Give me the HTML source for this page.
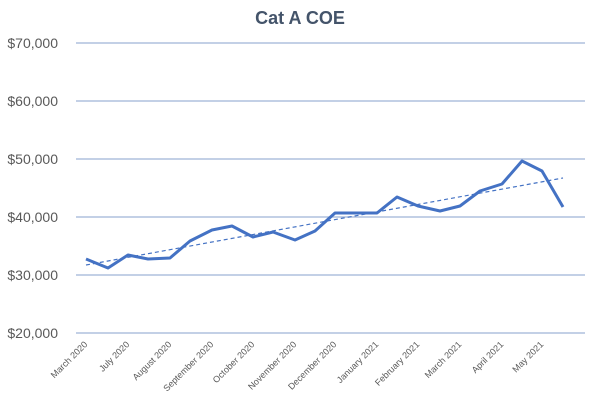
<!DOCTYPE html>
<html><head><style>body{margin:0;background:#fff}svg{display:block}</style></head><body>
<svg width="600" height="400" xmlns="http://www.w3.org/2000/svg" font-family="Liberation Sans, sans-serif">
<text x="300" y="24" text-anchor="middle" font-size="18" font-weight="bold" fill="#44546a">Cat A COE</text>
<g stroke="#9fb3d6" stroke-width="1.3">
<line x1="76" x2="585" y1="43" y2="43"/><line x1="76" x2="585" y1="101" y2="101"/>
<line x1="76" x2="585" y1="159" y2="159"/><line x1="76" x2="585" y1="217" y2="217"/>
<line x1="76" x2="585" y1="275" y2="275"/><line x1="76" x2="585" y1="333" y2="333"/>
</g>
<g font-size="14" fill="#595959" text-anchor="end">
<text x="58" y="48">$70,000</text><text x="58" y="106">$60,000</text><text x="58" y="164">$50,000</text>
<text x="58" y="222">$40,000</text><text x="58" y="280">$30,000</text><text x="58" y="338">$20,000</text>
</g>
<line x1="86" y1="265" x2="563" y2="178" stroke="#4472c4" stroke-width="1.2" stroke-dasharray="4,3"/>
<polyline fill="none" stroke="#4472c4" stroke-width="3" stroke-linejoin="round" points="86,259 108,268 128,255 148,259 170,258 190,241 212,230 232,226 253,237 273,232 295,240 315,231 335,213 357,213 377,213 397,197 418,206 440,211 460,206 480,191 502,184 522,161 542,171 563,207"/>
<g font-size="9" fill="#595959" text-anchor="end">
<text transform="translate(88,345) rotate(-45)">March 2020</text>
<text transform="translate(130,345) rotate(-45)">July 2020</text>
<text transform="translate(172,345) rotate(-45)">August 2020</text>
<text transform="translate(214,345) rotate(-45)">September 2020</text>
<text transform="translate(255,345) rotate(-45)">October 2020</text>
<text transform="translate(297,345) rotate(-45)">November 2020</text>
<text transform="translate(337,345) rotate(-45)">December 2020</text>
<text transform="translate(379,345) rotate(-45)">January 2021</text>
<text transform="translate(420,345) rotate(-45)">February 2021</text>
<text transform="translate(462,345) rotate(-45)">March 2021</text>
<text transform="translate(504,345) rotate(-45)">April 2021</text>
<text transform="translate(544,345) rotate(-45)">May 2021</text>
</g>
</svg>
</body></html>
